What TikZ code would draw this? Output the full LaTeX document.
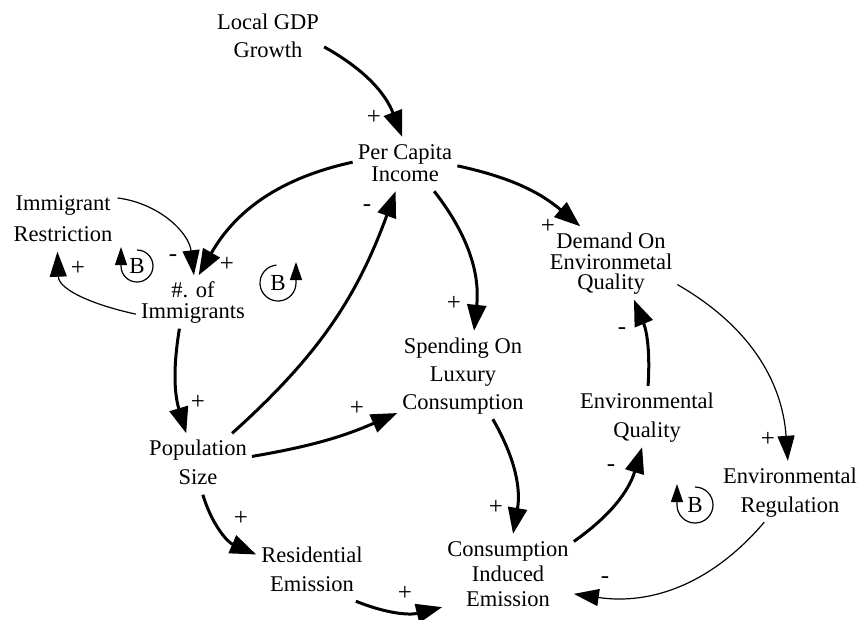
\documentclass[tikz,border=0pt]{standalone}
\usepackage{fontspec}
\setmainfont{Liberation Serif}
\usetikzlibrary{arrows.meta,calc}
\newcommand\fs{\rule{0pt}{17pt}}
\newcommand\ls{\rule[-5pt]{0pt}{5pt}}
\AtBeginDocument{\setlength{\lineskiplimit}{-100pt}}
\tikzset{
  var/.style={align=center, inner sep=5pt, font=\fontsize{22.5}{#1}\selectfont},
  var/.default=28,
  pol/.style={inner sep=0pt, font=\fontsize{25}{27}\selectfont},
  bfont/.style={inner sep=0pt, font=\fontsize{23}{26}\selectfont},
  arr/.style={line width=3pt, -{Triangle[length=26pt,width=19pt]}},
  tarr/.style={line width=1.2pt, -{Triangle[length=25pt,width=17pt]}},
  loopc/.style={line width=1.2pt, -{Triangle[length=18pt,width=12pt]}}}
\begin{document}
\begin{tikzpicture}[x=1pt,y=1pt]
\useasboundingbox (0,0) rectangle (860,-619);
% variables
\node[var=28] (gdp) at (268,-37) {\fs Local GDP\\Growth\ls};
\node[var=22] (pci) at (405,-164) {\fs Per Capita\\Income\ls};
\node[var=31] (immr) at (63,-220) {\fs Immigrant\\Restriction\ls};
\node[var=21] (imm) at (193,-302) {\fs\#. of\\Immigrants\ls};
\node[var=29] (pop) at (198,-464) {\fs Population\\Size\ls};
\node[var=28] (spend) at (463,-375) {\fs Spending On\\Luxury\\Consumption\ls};
\node[var=20.5] (dem) at (611,-263) {\fs Demand On\\Environmetal\\Quality\ls};
\node[var=29] (eq) at (647,-416.5) {\fs Environmental\\Quality\ls};
\node[var=29] (reg) at (790,-491.5) {\fs Environmental\\Regulation\ls};
\node[var=25] (cie) at (508,-575) {\fs Consumption\\Induced\\Emission\ls};
\node[var=29] (res) at (312,-570.5) {\fs Residential\\Emission\ls};
% links
\draw[arr] (gdp.-10) to[bend left=20] (pci.96);
\draw[arr] (pci.178) to[bend right=24] (imm.78);
\draw[tarr] (immr.22) to[bend left=38] (imm.88);
\draw[tarr] (imm.192) to[out=168,in=-88] (immr.-100);
\draw[arr] (pop.42) to[bend right=14] (pci.-109);
\draw[arr] (imm.-117) to[bend right=13] (pop.111);
\draw[arr] (pop.8) to[bend right=7] (spend.210);
\draw[arr] (pci.-43) to[bend left=22] (spend.76);
\draw[arr] (pci.-2) to[bend left=14] (dem.130);
\draw[arr] (spend.-56) to[bend left=20] (cie.83);
\draw[arr] (res.-35) to[bend right=18] (cie.206);
\draw[arr] (cie.27) to[bend right=19] (eq.-99);
\draw[arr] (eq.88) to[bend right=13] (dem.-58);
\draw[tarr] (dem.-18) to[bend left=28] (reg.94);
\draw[tarr] (reg.-130) to[bend left=29] (cie.-16);
\draw[arr] (pop.-81) to[bend right=25] (res.164);
% polarities
\node[pol] (p1) at (374,-117) {+};
\node[pol] (p2) at (227,-264) {+};
\node[pol] (p3) at (173,-258) {-};
\node[pol] (p4) at (78,-268) {+};
\node[pol] (p5) at (367,-208) {-};
\node[pol] (p6) at (198,-402) {+};
\node[pol] (p7) at (357,-408) {+};
\node[pol] (p8) at (454,-303) {+};
\node[pol] (p9) at (548,-226) {+};
\node[pol] (p10) at (496,-507) {+};
\node[pol] (p11) at (405,-593) {+};
\node[pol] (p12) at (611,-468) {-};
\node[pol] (p13) at (622,-331) {-};
\node[pol] (p14) at (768,-439) {+};
\node[pol] (p15) at (605,-580) {-};
\node[pol] (p16) at (241,-518) {+};
% loop markers
\node[bfont] (b1) at (137,-266) {B};
\draw[loopc] ($(b1)+(90:16)$) arc[start angle=90, end angle=-180, radius=16] -- ++(0,19);
\node[bfont] (b2) at (278,-283) {B};
\draw[loopc] ($(b2)+(95:18)$) arc[start angle=95, end angle=360, radius=18] -- ++(0,21);
\node[bfont] (b3) at (695,-505) {B};
\draw[loopc] ($(b3)+(90:18)$) arc[start angle=90, end angle=-180, radius=18] -- ++(0,21);
\end{tikzpicture}
\end{document}
